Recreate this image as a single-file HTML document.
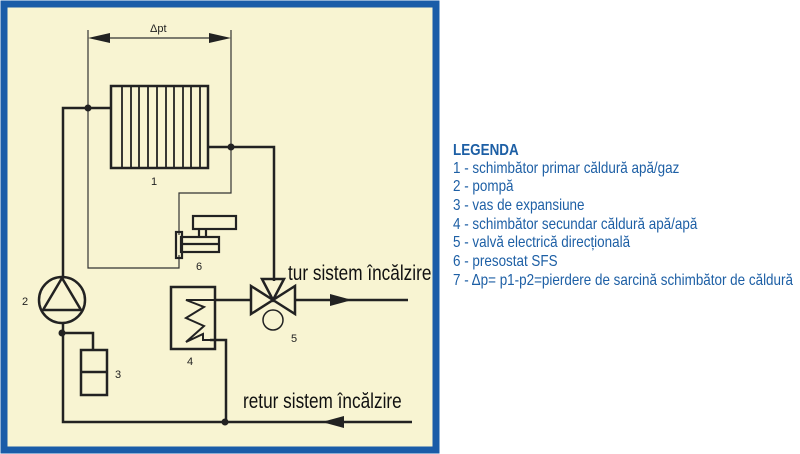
<!DOCTYPE html>
<html><head><style>
body{margin:0;width:800px;height:454px;background:#fff;position:relative;overflow:hidden;font-family:"Liberation Sans",sans-serif}
.leg{position:absolute;left:453px;color:#1d5fa5;font-size:16px;white-space:nowrap;transform:scaleX(0.84);transform-origin:0 0;line-height:18px}
</style></head><body>
<svg width="800" height="454" style="position:absolute;left:0;top:0">
<rect x="4" y="4" width="432" height="446" fill="#f8f4d2" stroke="#1a5ca8" stroke-width="7"/>
<g stroke="#222" fill="none" stroke-width="2.5">
<polyline points="111,108 63,108 63,277"/>
<polyline points="208,147 274,147 274,281"/>
<polyline points="63,323 63,422 412,422"/>
<polyline points="63,333 93,333 93,350"/>
<polyline points="215,300 251,300"/>
<polyline points="295,300 408,300"/>
<polyline points="210,340 226,340 226,422"/>
<rect x="111" y="86" width="97" height="82"/>
<circle cx="62" cy="300" r="23"/>
<polygon points="62,278 43,310 81,310"/>
<rect x="81" y="350" width="26" height="45"/>
<line x1="81" y1="372" x2="107" y2="372"/>
<rect x="171" y="287" width="44" height="62"/>
<polyline points="215,300 186,300 204,307 186,318 204,326 186,342 203,334 203,340 215,340" stroke-width="2"/>
<polygon points="251,286 251,314 273,300"/>
<polygon points="295,286 295,314 273,300"/>
<polygon points="262,279 284,279 273,300"/>
<circle cx="273" cy="320" r="10" stroke-width="1.5"/>
</g>
<g stroke="#222" stroke-width="1.8" fill="none">
<line x1="122" y1="86" x2="122" y2="168"/><line x1="131" y1="86" x2="131" y2="168"/><line x1="139" y1="86" x2="139" y2="168"/><line x1="148" y1="86" x2="148" y2="168"/><line x1="157" y1="86" x2="157" y2="168"/><line x1="166" y1="86" x2="166" y2="168"/><line x1="174" y1="86" x2="174" y2="168"/><line x1="183" y1="86" x2="183" y2="168"/><line x1="191" y1="86" x2="191" y2="168"/><line x1="200" y1="86" x2="200" y2="168"/>
</g>
<g stroke="#333" stroke-width="1.2" fill="none">
<polyline points="88,30 88,268 179,268 179,255"/>
<polyline points="231,30 231,193 179,193 179,235"/>
<line x1="95" y1="38" x2="224" y2="38"/>
</g>
<polygon points="88,38 110,33 110,43" fill="#222"/>
<polygon points="231,38 209,33 209,43" fill="#222"/>
<g stroke="#222" stroke-width="2.2" fill="none">
<rect x="193" y="216" width="43" height="13"/>
<line x1="199" y1="229" x2="199" y2="237"/><line x1="206" y1="229" x2="206" y2="237"/>
<rect x="181" y="237" width="38" height="15"/>
<line x1="181" y1="244" x2="219" y2="244"/>
<rect x="176" y="232" width="6" height="26"/>
</g>
<g fill="#222">
<circle cx="88" cy="108" r="3.5"/><circle cx="231" cy="147" r="3.5"/><circle cx="62" cy="333" r="3.5"/><circle cx="225" cy="422" r="3.5"/>
<polygon points="352,300 330,294 330,306"/>
<polygon points="322,422 344,416 344,428"/>
</g>
<g font-family="Liberation Sans,sans-serif" font-size="11" fill="#222">
<text x="150" y="32">Δpt</text>
<text x="151" y="185">1</text><text x="22" y="305">2</text><text x="115" y="378">3</text>
<text x="187" y="365">4</text><text x="291" y="342">5</text><text x="196" y="270">6</text>
</g>
<text x="288" y="280" font-size="21" fill="#111" transform="translate(288,0) scale(0.82,1) translate(-288,0)">tur sistem încălzire</text>
<text x="243" y="408" font-size="21" fill="#111" transform="translate(243,0) scale(0.82,1) translate(-243,0)">retur sistem încălzire</text>
</svg>
<div class="leg" style="top:142px;font-weight:bold">LEGENDA</div>
<div class="leg" style="top:160px">1 - schimbător primar căldură apă/gaz</div>
<div class="leg" style="top:178px">2 - pompă</div>
<div class="leg" style="top:197px">3 - vas de expansiune</div>
<div class="leg" style="top:216px">4 - schimbător secundar căldură apă/apă</div>
<div class="leg" style="top:234px">5 - valvă electrică direcțională</div>
<div class="leg" style="top:253px">6 - presostat SFS</div>
<div class="leg" style="top:272px">7 -  Δp= p1-p2=pierdere de sarcină schimbător de căldură</div>
</body></html>
